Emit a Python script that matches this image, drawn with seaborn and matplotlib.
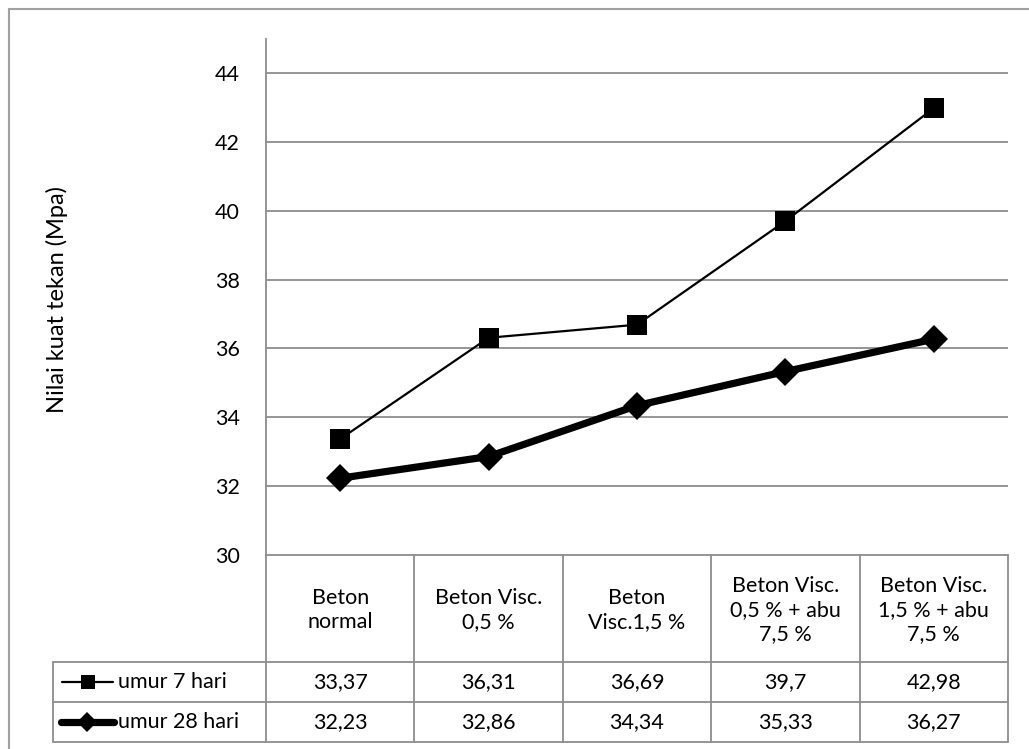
import numpy as np
import pandas as pd
import matplotlib
matplotlib.use("Agg")
import matplotlib.pyplot as plt
from matplotlib.lines import Line2D
import seaborn as sns

categories = ["Beton\nnormal", "Beton Visc.\n0,5 %", "Beton\nVisc.1,5 %",
              "Beton Visc.\n0,5 % + abu\n7,5 %", "Beton Visc.\n1,5 % + abu\n7,5 %"]
series_names = ["umur 7 hari", "umur 28 hari"]
umur_7 = [33.37, 36.31, 36.69, 39.7, 42.98]
umur_28 = [32.23, 32.86, 34.34, 35.33, 36.27]
yticks = [30, 32, 34, 36, 38, 40, 42, 44]
ylabel = "Nilai kuat tekan (Mpa)"

sns.set_theme(style="white")
plt.rcParams["font.family"] = ["Lato", "DejaVu Sans"]

W, H = 1029, 749
fig = plt.figure(figsize=(W / 100, H / 100), dpi=100)
fig.patch.set_facecolor("white")

def fx(px):
    return px / W

def fy(py):
    return 1 - py / H

GRAY = "#8c8c8c"
FS = 15.5

left, right, top, bottom = 266, 1008, 38.6, 555
ax = fig.add_axes([fx(left), fy(bottom), fx(right - left), (bottom - top) / H])

pos = np.arange(len(categories)) + 0.5
df = pd.DataFrame({"pos": np.concatenate([pos, pos]),
                   "val": umur_7 + umur_28,
                   "series": [series_names[0]] * 5 + [series_names[1]] * 5})

sns.lineplot(data=df[df.series == series_names[0]], x="pos", y="val", ax=ax,
             color="black", linewidth=1.6, marker="s", markersize=15,
             markeredgewidth=0, sort=False, zorder=4)
sns.lineplot(data=df[df.series == series_names[1]], x="pos", y="val", ax=ax,
             color="black", linewidth=5.2, marker="D", markersize=14,
             markeredgewidth=0, sort=False, zorder=5)

ax.set_xlim(0, len(categories))
ax.set_ylim(30, 45)
ax.set_yticks(yticks)
ax.set_yticklabels([str(t) for t in yticks], fontsize=FS, color="black")
ax.set_xticks([])
ax.set_xlabel("")
ax.set_ylabel("")
ax.tick_params(axis="y", length=0, pad=19)
for t in yticks[1:]:
    ax.axhline(t, color=GRAY, linewidth=1.3, zorder=1)
for s in ["top", "right", "bottom"]:
    ax.spines[s].set_visible(False)
ax.spines["left"].set_color(GRAY)
ax.spines["left"].set_linewidth(1.3)
ax.grid(False)

fig.text(fx(57), fy(300), ylabel, rotation=90, ha="center", va="center",
         fontsize=17, color="black")

# outer frame (left and top only visible)
fig.add_artist(Line2D([fx(9), fx(9)], [fy(9), fy(H + 5)], color="#a0a0a0", lw=1.5))
fig.add_artist(Line2D([fx(9), fx(W + 5)], [fy(9), fy(9)], color="#a0a0a0", lw=1.5))

# data table
col_edges = [266, 414.4, 562.8, 711.2, 859.6, 1008]
row_edges = [555, 662, 702, 742]
legend_left = 53

def hline(y, x0, x1):
    fig.add_artist(Line2D([fx(x0), fx(x1)], [fy(y), fy(y)], color=GRAY, lw=1.3))

def vline(x, y0, y1):
    fig.add_artist(Line2D([fx(x), fx(x)], [fy(y0), fy(y1)], color=GRAY, lw=1.3))

hline(row_edges[0], col_edges[0], col_edges[-1])
for y in row_edges[1:]:
    hline(y, legend_left, col_edges[-1])
for x in col_edges:
    vline(x, row_edges[0], row_edges[-1])
vline(legend_left, row_edges[1], row_edges[-1])

for i, cat in enumerate(categories):
    cx = (col_edges[i] + col_edges[i + 1]) / 2
    fig.text(fx(cx), fy((row_edges[0] + row_edges[1]) / 2 + 2), cat,
             ha="center", va="center", fontsize=FS, linespacing=1.25, color="black")

def fmt(v):
    return ("%g" % v).replace(".", ",")

for r, vals in enumerate([umur_7, umur_28]):
    cy = (row_edges[r + 1] + row_edges[r + 2]) / 2
    for i, v in enumerate(vals):
        cx = (col_edges[i] + col_edges[i + 1]) / 2
        fig.text(fx(cx), fy(cy), fmt(v), ha="center", va="center",
                 fontsize=FS, color="black")
    fig.text(fx(118), fy(cy), series_names[r], ha="left", va="center",
             fontsize=FS, color="black")

# legend keys inside the table
cy1 = (row_edges[1] + row_edges[2]) / 2
cy2 = (row_edges[2] + row_edges[3]) / 2
fig.add_artist(Line2D([fx(62), fx(113)], [fy(cy1), fy(cy1)], color="black", lw=1.6))
fig.add_artist(Line2D([fx(88)], [fy(cy1)], color="black", marker="s",
                      markersize=10, markeredgewidth=0, linestyle="none"))
fig.add_artist(Line2D([fx(61), fx(114)], [fy(cy2), fy(cy2)], color="black", lw=5.2,
                      solid_capstyle="round"))
fig.add_artist(Line2D([fx(87)], [fy(cy2)], color="black", marker="D",
                      markersize=10, markeredgewidth=0, linestyle="none"))

fig.savefig("out.png", dpi=100, facecolor="white")
